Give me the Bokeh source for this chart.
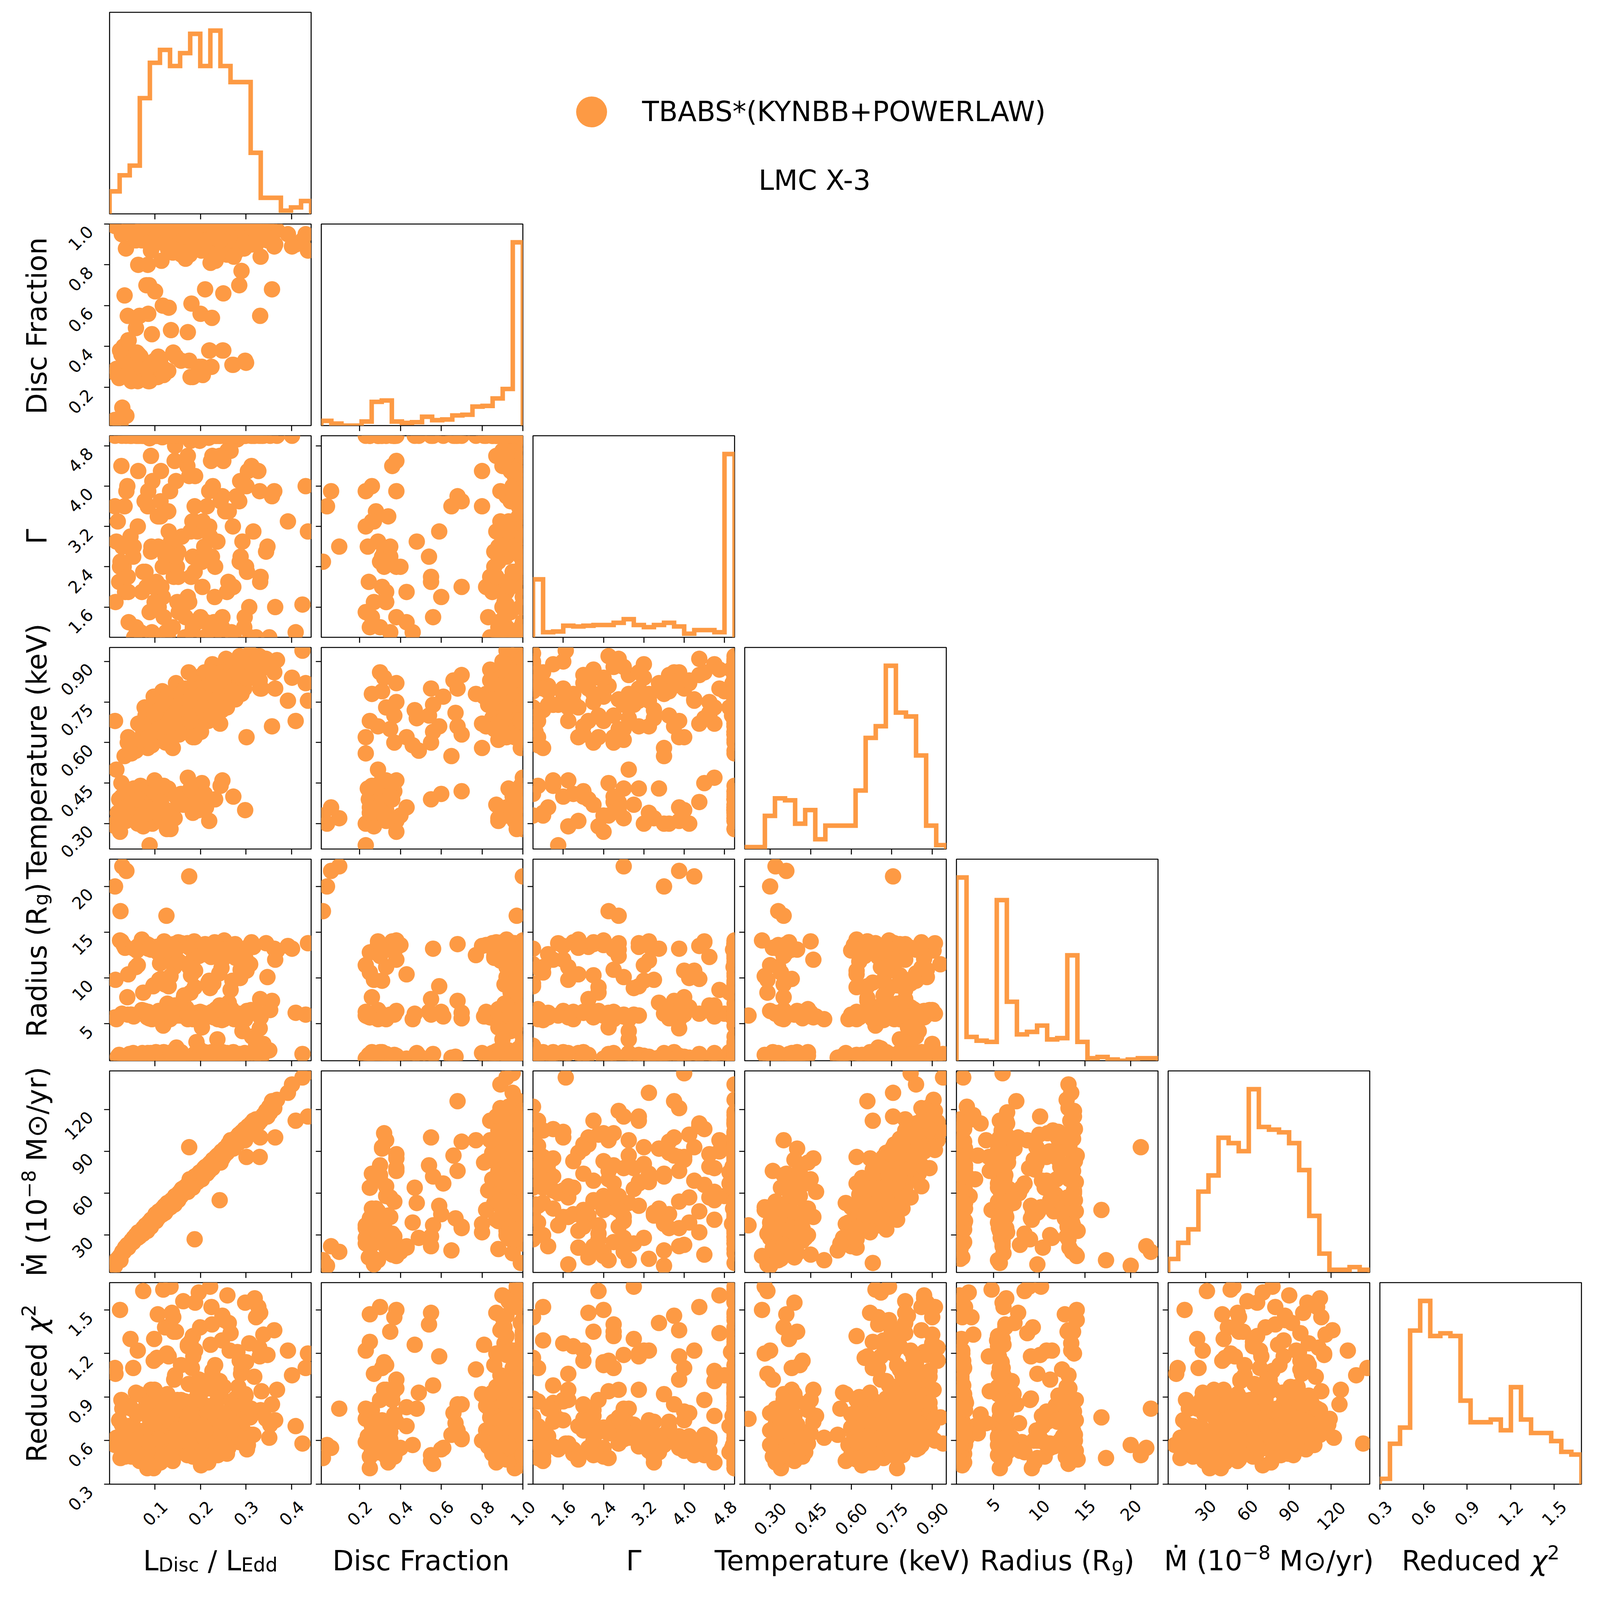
import math
import numpy as np
from bokeh.plotting import figure
from bokeh.models import (Range1d, FixedTicker, LinearAxis, Label, Legend,
                          LegendItem, ColumnDataSource, Spacer)
from bokeh.layouts import row, column
from bokeh.embed import file_html
from bokeh.resources import INLINE

# ---------------- scatter samples ----------------
# hot, disc-dominated states (batch 1)
ldisc_hot = [0.082, 0.088, 0.103, 0.109, 0.121, 0.128, 0.142, 0.151, 0.158, 0.172,
             0.178, 0.193, 0.199, 0.212, 0.218, 0.232, 0.241, 0.248, 0.263, 0.268,
             0.281, 0.292, 0.298, 0.312, 0.318, 0.332, 0.338, 0.071, 0.077, 0.084,
             0.097, 0.104, 0.116, 0.123, 0.137, 0.146, 0.153, 0.167, 0.174, 0.186,
             0.196, 0.204, 0.217, 0.226, 0.233, 0.247, 0.256, 0.262, 0.277, 0.286,
             0.294, 0.307, 0.313, 0.327, 0.334, 0.347, 0.353, 0.362, 0.118, 0.141,
             0.162, 0.181, 0.202, 0.221, 0.238, 0.259, 0.283, 0.302, 0.098, 0.112,
             0.131, 0.149, 0.169, 0.188, 0.209, 0.229, 0.252, 0.271, 0.289, 0.309,
             0.329, 0.092, 0.119, 0.139, 0.163, 0.183, 0.201, 0.223, 0.243, 0.258,
             0.191, 0.214, 0.171, 0.148, 0.133, 0.392, 0.431, 0.436, 0.424, 0.409,
             0.401, 0.357, 0.331, 0.368, 0.301, 0.351]
frac_hot = [0.97, 0.99, 0.93, 1.0, 0.98, 0.88, 0.96, 0.99, 0.85, 1.0,
            0.94, 0.97, 0.90, 1.0, 0.95, 0.86, 0.99, 0.92, 1.0, 0.88,
            0.97, 0.94, 1.0, 0.90, 0.98, 0.84, 1.0, 0.92, 1.0, 0.80,
            0.96, 1.0, 0.91, 0.99, 0.87, 1.0, 0.95, 0.83, 1.0, 0.93,
            0.98, 0.89, 1.0, 0.96, 0.82, 1.0, 0.94, 0.99, 0.86, 1.0,
            0.95, 0.91, 1.0, 0.97, 1.0, 0.92, 0.98, 0.89, 0.97, 1.0,
            0.93, 0.99, 0.87, 1.0, 0.95, 0.90, 1.0, 0.96, 1.0, 0.94,
            1.0, 0.91, 1.0, 0.96, 0.99, 0.88, 1.0, 0.93, 1.0, 0.97,
            1.0, 0.88, 1.0, 0.99, 1.0, 0.92, 1.0, 0.97, 1.0, 0.85,
            1.0, 0.98, 0.96, 1.0, 0.98, 0.95, 0.95, 0.87, 0.92, 0.90,
            0.89, 0.68, 0.55, 0.97, 0.99, 0.93]
gamma_hot = [5.0, 4.95, 2.1, 3.4, 5.0, 1.05, 4.98, 2.7, 5.0, 1.8,
             4.9, 3.1, 5.0, 1.3, 4.96, 2.4, 5.0, 3.8, 5.0, 1.1,
             4.93, 2.9, 5.0, 4.4, 5.0, 2.2, 5.0, 1.9, 5.0, 3.6,
             5.0, 1.0, 4.97, 2.6, 5.0, 4.1, 5.0, 1.4, 5.0, 3.3,
             5.0, 2.0, 5.0, 4.6, 5.0, 1.2, 5.0, 3.5, 5.0, 2.5,
             5.0, 1.6, 5.0, 4.3, 5.0, 2.8, 5.0, 3.9, 5.0, 2.2,
             5.0, 1.1, 5.0, 3.0, 5.0, 4.7, 5.0, 2.3, 5.0, 3.7,
             5.0, 1.7, 5.0, 4.2, 5.0, 1.3, 5.0, 3.2, 5.0, 1.0,
             5.0, 2.8, 5.0, 1.2, 5.0, 2.6, 5.0, 4.5, 5.0, 1.9,
             5.0, 3.6, 5.0, 2.4, 5.0, 3.3, 4.0, 3.1, 1.65, 1.1,
             5.0, 3.8, 2.1, 5.0, 4.0, 1.0]
temp_hot = [0.66, 0.70, 0.68, 0.72, 0.74, 0.64, 0.71, 0.76, 0.69, 0.78,
            0.73, 0.80, 0.75, 0.79, 0.82, 0.77, 0.84, 0.81, 0.86, 0.83,
            0.87, 0.85, 0.88, 0.86, 0.89, 0.87, 0.90, 0.62, 0.73, 0.58,
            0.77, 0.65, 0.79, 0.60, 0.67, 0.82, 0.63, 0.74, 0.86, 0.66,
            0.71, 0.85, 0.68, 0.89, 0.78, 0.72, 0.91, 0.80, 0.76, 0.92,
            0.82, 0.90, 0.84, 0.91, 0.80, 0.88, 0.90, 0.86, 0.69, 0.75,
            0.80, 0.70, 0.83, 0.74, 0.79, 0.87, 0.79, 0.84, 0.74, 0.70,
            0.77, 0.68, 0.72, 0.76, 0.86, 0.81, 0.74, 0.89, 0.81, 0.93,
            0.92, 0.61, 0.63, 0.58, 0.66, 0.62, 0.64, 0.70, 0.67, 0.73,
            0.82, 0.78, 0.76, 0.79, 0.71, 0.755, 0.82, 0.755, 0.94, 0.68,
            0.84, 0.66, 0.80, 0.905, 0.62, 0.89]
radius_hot = [1.3, 5.8, 13.4, 9.8, 1.7, 6.1, 11.2, 1.2, 13.8, 5.5,
              8.4, 1.6, 6.3, 12.6, 1.4, 5.9, 10.5, 1.9, 13.3, 6.6,
              1.1, 4.2, 6.0, 13.9, 1.5, 5.7, 2.8, 14.2, 6.4, 1.8,
              9.2, 1.2, 13.1, 5.6, 1.9, 6.8, 11.8, 1.3, 5.8, 14.0,
              2.3, 6.2, 9.5, 1.6, 13.6, 5.4, 1.2, 7.3, 12.2, 1.7,
              5.9, 13.5, 3.6, 6.1, 1.4, 10.1, 6.5, 13.2, 4.8, 13.7,
              1.1, 6.0, 2.0, 8.9, 5.5, 1.3, 13.0, 6.4, 1.5, 6.2,
              12.9, 1.8, 6.7, 10.8, 1.9, 5.7, 14.1, 1.5, 5.6, 11.5,
              1.2, 5.8, 13.3, 1.4, 7.8, 5.5, 1.6, 12.3, 6.3, 1.8,
              3.0, 6.1, 13.8, 5.9, 1.3, 13.5, 6.0, 13.8, 1.7, 6.2,
              13.2, 7.5, 7.7, 13.0, 10.8, 2.1]
mdot_hot = [37, 38, 44, 46, 51, 52, 55, 58, 61, 64,
            67, 68, 73, 76, 79, 83, 88, 87, 93, 94,
            97, 98, 103, 106, 109, 112, 116, 33, 34, 38,
            41, 44, 49, 50, 53, 57, 59, 62, 65, 68,
            71, 74, 77, 78, 83, 86, 91, 92, 95, 98,
            101, 104, 110, 110, 113, 115, 118, 121, 48, 54,
            60, 69, 72, 78, 84, 90, 96, 102, 43, 45,
            51, 57, 63, 69, 78, 81, 87, 93, 99, 105,
            111, 40, 47, 53, 60, 67, 71, 79, 85, 89,
            70, 74, 62, 58, 52, 132, 146, 115, 143, 112,
            138, 126, 100, 127, 86, 122]
chi2_hot = [0.62, 0.55, 0.71, 0.48, 0.83, 0.66, 1.02, 0.58, 0.74, 1.25,
            0.52, 0.95, 1.38, 0.63, 0.77, 1.12, 0.59, 1.46, 0.68, 0.87,
            1.21, 0.72, 1.55, 0.64, 1.04, 0.81, 1.33, 0.47, 0.79, 0.92,
            0.41, 1.17, 0.57, 0.69, 1.48, 0.61, 0.84, 0.56, 0.99, 0.53,
            1.62, 0.75, 0.45, 1.08, 0.67, 1.29, 0.60, 1.41, 0.89, 1.15,
            0.66, 1.27, 0.78, 1.52, 0.94, 1.19, 0.71, 1.36, 1.64, 1.35,
            1.56, 1.10, 0.86, 1.66, 0.50, 1.60, 0.97, 0.54, 1.30, 0.73,
            0.49, 0.88, 0.62, 1.22, 0.57, 0.82, 1.43, 0.65, 1.06, 0.76,
            1.24, 0.64, 0.90, 0.46, 0.72, 1.32, 0.43, 0.60, 0.93, 0.51,
            0.70, 0.58, 0.80, 0.69, 0.54, 1.22, 1.10, 1.20, 0.58, 0.70,
            1.05, 0.85, 1.48, 0.95, 0.80, 0.62]

# hot, disc-dominated states (batch 2)
ldisc_hot2 = [0.074, 0.079, 0.086, 0.091, 0.096, 0.101, 0.106, 0.111, 0.114, 0.119,
              0.124, 0.127, 0.133, 0.136, 0.139, 0.144, 0.147, 0.152, 0.156, 0.159,
              0.164, 0.166, 0.171, 0.176, 0.179, 0.184, 0.187, 0.192, 0.194, 0.198,
              0.203, 0.206, 0.211, 0.214, 0.219, 0.222, 0.227, 0.231, 0.234, 0.237,
              0.242, 0.246, 0.251, 0.254, 0.257, 0.261, 0.266, 0.269, 0.273, 0.276,
              0.279, 0.284, 0.288, 0.291, 0.296, 0.299, 0.304, 0.311, 0.316, 0.322,
              0.108, 0.117, 0.126, 0.143, 0.157, 0.168, 0.182, 0.197, 0.208, 0.216,
              0.228, 0.236, 0.244, 0.253, 0.264, 0.274, 0.287, 0.297, 0.319, 0.344]
frac_hot2 = [1.0, 0.95, 0.99, 0.87, 1.0, 0.93, 0.98, 1.0, 0.82, 0.96,
             1.0, 0.91, 0.99, 1.0, 0.86, 0.97, 1.0, 0.94, 0.89, 1.0,
             0.98, 0.92, 1.0, 0.85, 0.96, 1.0, 0.99, 0.90, 1.0, 0.95,
             0.88, 1.0, 0.97, 0.93, 1.0, 0.81, 0.99, 1.0, 0.94, 0.90,
             1.0, 0.96, 0.87, 1.0, 0.98, 0.92, 1.0, 0.95, 0.84, 1.0,
             0.99, 0.91, 1.0, 0.97, 0.88, 1.0, 0.94, 0.98, 1.0, 0.90,
             0.99, 1.0, 0.95, 0.92, 1.0, 0.97, 0.89, 1.0, 0.96, 0.93,
             1.0, 0.85, 0.99, 1.0, 0.94, 0.98, 1.0, 0.91, 0.97, 1.0]
gamma_hot2 = [5.0, 2.3, 5.0, 4.6, 1.0, 5.0, 3.4, 5.0, 2.0, 5.0,
              1.1, 5.0, 3.9, 5.0, 2.7, 4.8, 5.0, 1.5, 5.0, 3.0,
              5.0, 1.0, 4.4, 5.0, 2.2, 5.0, 3.6, 1.3, 5.0, 4.9,
              2.5, 5.0, 1.0, 5.0, 3.2, 5.0, 4.0, 1.8, 5.0, 2.9,
              5.0, 1.1, 5.0, 3.5, 5.0, 2.1, 4.7, 5.0, 1.0, 5.0,
              3.8, 5.0, 2.6, 5.0, 1.2, 5.0, 4.3, 5.0, 3.1, 1.0,
              5.0, 2.4, 5.0, 4.5, 1.6, 5.0, 3.3, 5.0, 2.8, 5.0,
              1.0, 5.0, 3.7, 5.0, 2.0, 5.0, 4.1, 1.4, 5.0, 2.7]
temp_hot2 = [0.64, 0.70, 0.61, 0.67, 0.73, 0.63, 0.69, 0.75, 0.66, 0.71,
             0.62, 0.77, 0.68, 0.73, 0.65, 0.79, 0.70, 0.74, 0.67, 0.76,
             0.72, 0.80, 0.69, 0.75, 0.78, 0.71, 0.82, 0.74, 0.77, 0.73,
             0.81, 0.76, 0.79, 0.72, 0.84, 0.77, 0.80, 0.75, 0.83, 0.78,
             0.81, 0.86, 0.76, 0.82, 0.79, 0.85, 0.80, 0.87, 0.83, 0.78,
             0.86, 0.82, 0.88, 0.84, 0.80, 0.87, 0.85, 0.89, 0.86, 0.90,
             0.72, 0.68, 0.74, 0.71, 0.78, 0.74, 0.77, 0.80, 0.74, 0.78,
             0.82, 0.76, 0.79, 0.84, 0.82, 0.85, 0.83, 0.89, 0.87, 0.91]
radius_hot2 = [1.4, 6.0, 13.6, 1.8, 9.1, 5.7, 1.2, 11.6, 6.3, 13.1,
               1.6, 7.2, 5.5, 1.3, 12.4, 6.1, 2.4, 13.8, 5.9, 1.5,
               8.1, 6.4, 1.1, 13.3, 10.3, 5.6, 1.7, 6.2, 12.8, 1.9,
               4.6, 13.5, 6.0, 1.2, 9.7, 5.8, 1.4, 13.9, 6.6, 3.3,
               1.6, 11.1, 5.5, 13.2, 1.3, 6.3, 8.7, 1.8, 5.7, 13.7,
               1.1, 6.1, 10.9, 1.5, 5.9, 12.1, 1.7, 6.5, 13.4, 2.6,
               5.6, 1.2, 13.0, 7.0, 1.9, 6.2, 11.9, 1.4, 5.8, 13.6,
               9.4, 1.3, 6.0, 13.1, 1.6, 5.5, 10.0, 1.8, 6.4, 13.8]
mdot_hot2 = [35, 37, 39, 41, 42, 45, 45, 47, 48, 50,
             51, 53, 54, 55, 53, 58, 58, 60, 61, 63,
             64, 64, 66, 70, 69, 70, 72, 73, 73, 75,
             76, 77, 79, 79, 81, 82, 84, 83, 86, 87,
             88, 90, 91, 92, 93, 95, 98, 97, 98, 99,
             100, 102, 103, 104, 105, 104, 108, 110, 112, 113,
             47, 48, 52, 57, 62, 65, 70, 74, 78, 80,
             84, 86, 89, 92, 95, 98, 102, 106, 112, 119]
chi2_hot2 = [0.52, 0.66, 0.78, 0.45, 0.89, 0.61, 0.73, 0.56, 0.84, 0.69,
             0.48, 0.92, 0.63, 0.75, 0.58, 1.05, 0.67, 0.54, 0.81, 0.71,
             0.59, 0.87, 0.50, 0.64, 0.77, 1.18, 0.62, 0.83, 0.57, 0.70,
             0.94, 0.53, 0.68, 0.80, 0.60, 1.26, 0.74, 0.51, 0.86, 0.65,
             0.72, 0.58, 0.97, 0.63, 0.79, 0.55, 1.34, 0.68, 0.76, 0.61,
             0.85, 0.59, 0.73, 1.12, 0.66, 0.91, 0.57, 0.82, 0.64, 1.45,
             0.70, 0.49, 0.78, 0.62, 0.88, 0.56, 0.74, 1.02, 0.67, 0.81,
             0.60, 0.93, 0.69, 0.55, 1.22, 0.72, 0.63, 0.86, 1.58, 0.75]

# cool states (kT ~ 0.3-0.5 keV), batch 1
ldisc_cool = [0.015, 0.021, 0.013, 0.031, 0.042, 0.048, 0.062, 0.068, 0.083, 0.091,
              0.102, 0.108, 0.122, 0.129, 0.143, 0.151, 0.157, 0.172, 0.183, 0.188,
              0.203, 0.212, 0.219, 0.244, 0.248, 0.298, 0.272, 0.036, 0.046, 0.054,
              0.066, 0.074, 0.087, 0.094, 0.106, 0.117, 0.126, 0.088, 0.134, 0.026,
              0.052, 0.071, 0.112, 0.012]
frac_cool = [0.29, 0.245, 0.27, 0.40, 0.43, 0.37, 0.23, 0.35, 0.25, 0.32,
             0.96, 0.99, 0.91, 0.28, 1.0, 0.87, 0.33, 1.0, 0.25, 0.97,
             0.30, 0.92, 0.38, 0.99, 0.38, 0.33, 0.31, 0.88, 1.0, 0.94,
             0.55, 1.0, 0.70, 0.98, 0.25, 0.60, 1.0, 0.23, 0.97, 0.36,
             0.31, 0.29, 0.34, 0.99]
gamma_cool = [2.9, 2.1, 1.7, 2.4, 1.3, 5.0, 3.2, 1.1, 5.0, 2.7,
              5.0, 1.6, 5.0, 3.5, 5.0, 2.2, 5.0, 4.6, 1.2, 5.0,
              2.5, 5.0, 3.9, 5.0, 1.4, 5.0, 2.0, 5.0, 3.0, 1.0,
              5.0, 2.3, 5.0, 4.1, 5.0, 1.8, 5.0, 1.5, 5.0, 4.4,
              2.6, 5.0, 3.4, 5.0]
temp_cool = [0.50, 0.39, 0.29, 0.33, 0.36, 0.42, 0.30, 0.44, 0.34, 0.38,
             0.31, 0.40, 0.35, 0.43, 0.32, 0.37, 0.41, 0.47, 0.34, 0.39,
             0.45, 0.36, 0.31, 0.44, 0.46, 0.35, 0.40, 0.31, 0.37, 0.33,
             0.39, 0.29, 0.42, 0.30, 0.36, 0.41, 0.28, 0.22, 0.28, 0.45,
             0.38, 0.35, 0.32, 0.68]
radius_cool = [5.5, 1.6, 9.8, 13.6, 1.2, 6.0, 11.4, 1.5, 5.7, 13.1,
               1.9, 6.4, 9.3, 1.3, 6.1, 13.9, 1.7, 5.8, 10.6, 1.2,
               6.2, 13.4, 1.5, 6.6, 12.0, 5.5, 1.9, 1.4, 6.0, 13.2,
               1.1, 8.4, 5.6, 1.3, 12.8, 6.3, 1.6, 5.9, 10.2, 14.0,
               1.8, 6.5, 1.2, 5.7]
mdot_cool = [12, 14, 9, 18, 22, 26, 28, 30, 33, 36,
             40, 43, 46, 49, 52, 55, 58, 61, 64, 67,
             70, 74, 76, 82, 85, 98, 92, 20, 24, 27,
             29, 31, 35, 39, 42, 45, 48, 37, 50, 16,
             25, 32, 44, 10]
chi2_cool = [0.62, 0.74, 1.06, 0.55, 0.83, 0.49, 1.22, 0.66, 0.41, 0.95,
             0.58, 0.87, 1.38, 0.52, 0.71, 0.60, 1.12, 0.77, 0.49, 1.55,
             0.65, 0.84, 1.02, 0.58, 0.73, 0.92, 0.67, 0.57, 1.30, 0.69,
             0.46, 1.63, 0.61, 0.79, 1.47, 0.54, 1.20, 0.75, 1.66, 0.88,
             1.10, 0.52, 0.45, 1.10]

# cool states, batch 2
ldisc_cool2 = [0.018, 0.027, 0.034, 0.044, 0.053, 0.058, 0.064, 0.077, 0.082, 0.097,
               0.104, 0.113, 0.119, 0.137, 0.146, 0.162, 0.178, 0.196, 0.209, 0.232,
               0.023, 0.039, 0.072, 0.099]
frac_cool2 = [0.27, 0.95, 0.33, 1.0, 0.24, 0.92, 0.36, 0.99, 0.29, 1.0,
              0.31, 0.97, 0.26, 0.88, 0.35, 1.0, 0.93, 0.30, 1.0, 0.96,
              0.38, 0.26, 0.98, 0.33]
gamma_cool2 = [3.3, 5.0, 1.9, 5.0, 2.8, 1.2, 5.0, 3.7, 5.0, 2.0,
               5.0, 4.3, 1.4, 5.0, 2.6, 5.0, 3.1, 5.0, 1.0, 5.0,
               2.4, 4.0, 5.0, 1.7]
temp_cool2 = [0.34, 0.40, 0.31, 0.37, 0.43, 0.33, 0.39, 0.30, 0.36, 0.42,
              0.34, 0.38, 0.44, 0.32, 0.40, 0.37, 0.43, 0.35, 0.41, 0.39,
              0.27, 0.35, 0.33, 0.46]
radius_cool2 = [1.4, 6.1, 13.3, 1.7, 5.8, 11.2, 1.2, 6.4, 13.7, 1.5,
                5.6, 9.9, 1.9, 6.2, 13.1, 1.3, 5.9, 12.4, 1.6, 6.0,
                14.1, 7.9, 1.8, 5.7]
mdot_cool2 = [13, 17, 21, 24, 28, 30, 31, 35, 37, 42,
              44, 47, 49, 54, 57, 62, 67, 73, 77, 84,
              15, 23, 34, 43]
chi2_cool2 = [0.58, 0.71, 0.49, 0.84, 0.63, 0.55, 0.92, 0.67, 0.52, 1.15,
              0.74, 0.60, 0.81, 0.47, 1.35, 0.69, 0.56, 0.88, 0.62, 0.77,
              1.50, 0.53, 0.66, 0.95]

# intermediate disc fraction
ldisc_mid = [0.063, 0.081, 0.10, 0.13, 0.18, 0.20, 0.21, 0.225, 0.25, 0.285,
             0.29, 0.04, 0.058, 0.041, 0.085, 0.135, 0.172, 0.093, 0.033]
frac_mid = [0.80, 0.70, 0.67, 0.59, 0.61, 0.56, 0.68, 0.54, 0.66, 0.70,
            0.77, 0.55, 0.49, 0.43, 0.56, 0.48, 0.47, 0.46, 0.65]
gamma_mid = [4.3, 2.0, 5.0, 3.1, 5.0, 1.4, 5.0, 2.6, 5.0, 3.7,
             5.0, 2.2, 5.0, 1.9, 5.0, 2.9, 5.0, 1.1, 3.6]
temp_mid = [0.67, 0.63, 0.71, 0.66, 0.77, 0.74, 0.80, 0.70, 0.83, 0.85,
            0.78, 0.60, 0.57, 0.62, 0.64, 0.69, 0.72, 0.59, 0.55]
radius_mid = [13.5, 6.2, 1.4, 9.1, 5.8, 1.7, 13.7, 6.3, 1.2, 5.6,
              12.5, 6.0, 1.5, 10.4, 13.2, 1.8, 6.1, 5.5, 1.3]
mdot_mid = [32, 36, 42, 51, 67, 72, 76, 80, 87, 97,
            98, 22, 28, 21, 37, 53, 64, 39, 19]
chi2_mid = [0.60, 0.85, 0.72, 1.18, 0.55, 0.98, 0.67, 1.40, 0.79, 0.62,
            1.09, 0.50, 0.93, 0.70, 0.44, 0.82, 1.26, 0.57, 0.64]

# low disc fraction
ldisc_low = [0.06, 0.107, 0.14, 0.175, 0.178, 0.205, 0.22, 0.25, 0.224, 0.27,
             0.30, 0.048, 0.085, 0.12]
frac_low = [0.37, 0.35, 0.37, 0.33, 0.25, 0.26, 0.38, 0.38, 0.30, 0.31,
            0.32, 0.23, 0.23, 0.29]
gamma_low = [5.0, 2.8, 5.0, 1.7, 5.0, 3.3, 5.0, 4.5, 1.2, 5.0,
             2.4, 5.0, 3.9, 5.0]
temp_low = [0.60, 0.65, 0.70, 0.73, 0.68, 0.78, 0.82, 0.75, 0.86, 0.79,
            0.84, 0.56, 0.62, 0.66]
radius_low = [13.0, 6.0, 1.6, 11.2, 5.7, 1.3, 13.3, 6.4, 1.9, 9.7,
              5.9, 1.2, 6.3, 14.0]
mdot_low = [29, 43, 54, 65, 64, 74, 78, 88, 80, 93,
            103, 24, 35, 47]
chi2_low = [0.78, 0.61, 1.45, 0.58, 1.28, 0.70, 0.96, 0.53, 1.52, 0.67,
            1.14, 0.82, 0.59, 0.74]

# isolated points
ldisc_out = [0.028, 0.037, 0.012, 0.175, 0.024, 0.125, 0.187, 0.242, 0.364, 0.33]
frac_out = [0.10, 0.06, 0.04, 1.0, 0.02, 0.97, 0.96, 0.92, 0.90, 0.95]
gamma_out = [2.8, 3.9, 3.6, 4.2, 2.5, 2.7, 2.3, 4.6, 1.6, 3.9]
temp_out = [0.32, 0.36, 0.30, 0.755, 0.33, 0.35, 0.62, 0.73, 0.80, 0.83]
radius_out = [22.2, 21.7, 20.0, 21.1, 17.3, 16.8, 9.0, 7.0, 12.0, 4.5]
mdot_out = [18, 22, 8, 93, 12, 48, 27, 55, 100, 86]
chi2_out = [0.82, 0.55, 0.57, 0.50, 0.48, 0.76, 0.88, 1.01, 0.74, 1.18]

# ---------------- 1-D histogram counts (20 bins each) ----------------
hist_ldisc = [7, 12, 15, 36, 47, 51, 46, 50, 56, 46, 57, 46, 41, 41, 19, 5, 5, 1, 2, 4]
hist_frac = [7, 3, 0, 0, 6, 35, 37, 6, 4, 5, 13, 8, 9, 15, 16, 28, 29, 40, 54, 270]
hist_gamma = [80, 7, 8, 16, 15, 16, 17, 17, 20, 25, 17, 14, 17, 20, 15, 5, 10, 10, 7, 253]
hist_temp = [1, 1, 17, 26, 25, 13, 20, 5, 12, 12, 12, 30, 57, 63, 94, 70, 68, 48, 12, 2]
hist_radius = [146, 19, 16, 15, 128, 47, 21, 23, 28, 17, 18, 84, 15, 2, 3, 1, 0, 1, 2, 2]
hist_mdot = [5, 11, 16, 30, 36, 50, 48, 45, 68, 54, 53, 52, 48, 38, 21, 7, 1, 1, 2, 1]
hist_chi2 = [2, 15, 21, 57, 68, 55, 56, 55, 31, 23, 23, 24, 20, 36, 24, 19, 19, 16, 12, 11]

# ---------------- axis extents and ticks ----------------
limits = [(0.0, 0.443), (0.012, 1.0), (1.0, 5.0), (0.206, 0.952),
          (0.96, 22.98), (3.2, 147.7), (0.3, 1.688)]
tick_values = [[0.1, 0.2, 0.3, 0.4],
               [0.2, 0.4, 0.6, 0.8, 1.0],
               [1.6, 2.4, 3.2, 4.0, 4.8],
               [0.30, 0.45, 0.60, 0.75, 0.90],
               [5, 10, 15, 20],
               [30, 60, 90, 120],
               [0.3, 0.6, 0.9, 1.2, 1.5]]
tick_labels = [["0.1", "0.2", "0.3", "0.4"],
               ["0.2", "0.4", "0.6", "0.8", "1.0"],
               ["1.6", "2.4", "3.2", "4.0", "4.8"],
               ["0.30", "0.45", "0.60", "0.75", "0.90"],
               ["5", "10", "15", "20"],
               ["30", "60", "90", "120"],
               ["0.3", "0.6", "0.9", "1.2", "1.5"]]
SUB, SUP = "sub", "sup"
NB = "\u00a0"   # non-collapsing space inside split titles
axis_titles = [[("L", None), ("Disc", SUB), (NB + "/" + NB + "L", None), ("Edd", SUB)],
               [("Disc Fraction", None)],
               [("Γ", None)],
               [("Temperature (keV)", None)],
               [("Radius (R", None), ("g", SUB), (")", None)],
               [("Ṁ" + NB + "(10", None), ("−8", SUP), (NB + "M⊙/yr)", None)],
               [("Reduced" + NB, None), ("χ", "ital"), ("2", SUP)]]
legend_label = "TBABS*(KYNBB+POWERLAW)"
source_label = "LMC X-3"

# ---------------- styling / geometry (CSS px) ----------------
ORANGE = "#fd9a44"
FONT = "DejaVu Sans"
FR = 516             # panel frame size
STEP = 542           # panel pitch
BL, BR, BT, BB = 17, 9, 9, 17   # borders round each frame (ticks live in BL/BB)
LEFT_W = 263         # left strip for y tick labels / titles
BOT_H = 250          # bottom strip for x tick labels / titles
ROW0_TOP = 31
PX0 = 8 + LEFT_W + BL   # page x of first frame
PY0 = 8 + ROW0_TOP      # page y of first frame
TICK_PX = 43
LAB_PX = 70.5
SMALL_PX = 49
MARK = 42
HIST_LW = 11.6
EDGE_LW = 2.6

keys = ["ldisc", "frac", "gamma", "temp", "radius", "mdot", "chi2"]
batches = ["hot", "hot2", "cool", "cool2", "mid", "low", "out"]
g = globals()
src = ColumnDataSource({k: sum((g[f"{k}_{b}"] for b in batches), []) for k in keys})
hists = [hist_ldisc, hist_frac, hist_gamma, hist_temp, hist_radius, hist_mdot, hist_chi2]

EM = {' ': 0.318, NB: 0.318, '(': 0.390, ')': 0.390, '/': 0.337, '.': 0.318, '−': 0.838,
      '⊙': 0.838, 'Ṁ': 0.863, 'M': 0.863, 'L': 0.557, 'D': 0.770, 'E': 0.632,
      'R': 0.695, 'a': 0.613, 'c': 0.550, 'd': 0.635, 'e': 0.615, 'g': 0.635,
      'i': 0.278, 'r': 0.411, 's': 0.521, 'u': 0.634, 'y': 0.592, 'χ': 0.592,
      'F': 0.575, 'n': 0.634, 'o': 0.612, 't': 0.392, 'T': 0.611, 'm': 0.974,
      'p': 0.635, 'k': 0.579, 'V': 0.684, 'Γ': 0.557}


def text_w(s, px):
    return sum(EM.get(c, 0.636) for c in s) * px


def make_axis(ticks):
    ax = LinearAxis(ticker=FixedTicker(ticks=ticks, minor_ticks=[]))
    ax.major_tick_in = 0
    ax.major_tick_out = 14
    ax.major_tick_line_width = EDGE_LW
    ax.major_tick_line_color = "black"
    ax.minor_tick_line_color = None
    ax.axis_line_color = None
    ax.major_label_text_font_size = "0px"
    ax.major_label_text_color = None
    ax.major_label_standoff = 0
    ax.axis_label = None
    return ax


def strip(w, h):
    s = figure(width=w, height=h, x_range=Range1d(0, w), y_range=Range1d(h, 0),
               toolbar_location=None, output_backend="svg",
               x_axis_location=None, y_axis_location=None, min_border=0, title=None)
    s.grid.visible = False
    s.outline_line_color = None
    return s


panel_rows = []
for i in range(7):
    figs = []
    for j in range(i + 1):
        br = 20 if j == 6 else BR
        bt = ROW0_TOP if i == 0 else BT
        if i == j:
            yr = Range1d(0, 1.1 * max(hists[i]))
        else:
            yr = Range1d(*limits[i])
        p = figure(width=BL + FR + br, height=bt + FR + BB,
                   x_range=Range1d(*limits[j]), y_range=yr,
                   toolbar_location=None, output_backend="svg",
                   x_axis_location=None, y_axis_location=None,
                   min_border_left=BL, min_border_right=br,
                   min_border_top=bt, min_border_bottom=BB, title=None)
        p.grid.visible = False
        p.outline_line_color = "black"
        p.outline_line_width = EDGE_LW
        p.add_layout(make_axis(tick_values[j]), "below")
        if i == j:
            edges = np.linspace(limits[i][0], limits[i][1], len(hists[i]) + 1)
            xs = np.repeat(edges, 2)
            ys = np.concatenate([[0], np.repeat(hists[i], 2), [0]])
            p.line(xs, ys, line_width=HIST_LW, line_color=ORANGE, line_join="miter")
        else:
            p.add_layout(make_axis(tick_values[i]), "left")
            p.scatter(keys[j], keys[i], source=src, size=MARK,
                      fill_color=ORANGE, line_color=None)
        figs.append(p)
    panel_rows.append(figs)

# legend block (upper right of the corner plot)
ROW0_H = ROW0_TOP + FR + BB
LEG_X0 = 8 + LEFT_W + 2 * STEP
leg_fig = strip(3 * STEP, ROW0_H)
dummy = leg_fig.scatter(x=[np.nan], y=[np.nan], size=MARK, fill_color=ORANGE, line_color=None)
GLYPH = 198
leg = Legend(items=[LegendItem(label=legend_label, renderers=[dummy])],
             location=(1521.7 - LEG_X0 - GLYPH / 2, ROW0_H - (287.5 - 8) - GLYPH / 2 - 23),
             glyph_width=GLYPH, glyph_height=GLYPH,
             label_standoff=31, padding=0, margin=0, spacing=0,
             border_line_color=None, background_fill_alpha=0,
             label_text_font=FONT, label_text_font_size=f"{LAB_PX}px",
             label_text_color="black")
leg_fig.add_layout(leg)
leg_fig.add_layout(Label(x=2093 - LEG_X0, y=460.5 - 8 + 18, text=source_label,
                         text_align="center", text_baseline="middle", text_font=FONT,
                         text_font_size=f"{LAB_PX}px", text_color="black"))

RIGHT_W = STEP * 6 + BL + FR + 20
H_TOT = ROW0_H + STEP * 6 + BOT_H
left = strip(LEFT_W, H_TOT)
bot = strip(RIGHT_W, BOT_H)
LX0, LY0 = 8, 8                                 # page origin of left strip
BX0, BY0 = 8 + LEFT_W, 8 + ROW0_H + STEP * 6    # page origin of bottom strip


def page_x(j, v):
    lo, hi = limits[j]
    return PX0 + STEP * j + (v - lo) / (hi - lo) * FR


def page_y(i, v):
    lo, hi = limits[i]
    return PY0 + STEP * i + (hi - v) / (hi - lo) * FR


frame_bottom = PY0 + STEP * 6 + FR
for j in range(7):
    for v, s in zip(tick_values[j], tick_labels[j]):
        L = text_w(s, TICK_PX)
        bot.add_layout(Label(x=page_x(j, v) - BX0, y=frame_bottom + 38.7 + 0.52 * L - BY0,
                             text=s, angle=math.pi / 4, text_align="center",
                             text_baseline="middle", text_font=FONT,
                             text_font_size=f"{TICK_PX}px", text_color="black"))
for i in range(1, 7):
    for v, s in zip(tick_values[i], tick_labels[i]):
        left.add_layout(Label(x=PX0 - 50 - LX0, y=page_y(i, v) + 12 - LY0, text=s,
                              angle=math.pi / 4, text_align="right",
                              text_baseline="middle", text_font=FONT,
                              text_font_size=f"{TICK_PX}px", text_color="black"))


def rich_label(target, pieces, cx, cy, vertical):
    sizes = [SMALL_PX if kind in (SUB, SUP) else LAB_PX for _, kind in pieces]
    total = sum(text_w(t, s) for (t, _), s in zip(pieces, sizes))
    pos = -total / 2
    for (t, kind), s in zip(pieces, sizes):
        shift = 11 if kind == SUB else (-21.5 if kind == SUP else 0)
        if vertical:
            x, y, ang = cx + shift, cy - pos, math.pi / 2
        else:
            x, y, ang = cx + pos, cy + shift, 0
        target.add_layout(Label(x=x, y=y, text=t, angle=ang, text_align="left",
                                text_baseline="alphabetic", text_font=FONT,
                                text_font_style="italic" if kind == "ital" else "normal",
                                text_font_size=f"{s}px", text_color="black"))
        pos += text_w(t, s)


for j in range(7):
    rich_label(bot, axis_titles[j], PX0 + STEP * j + FR / 2 - BX0,
               frame_bottom + 196 - BY0, False)
for i in range(1, 7):
    rich_label(left, axis_titles[i], 102 - LX0, PY0 + STEP * i + FR / 2 - LY0, True)

rows = [row(panel_rows[0][0], Spacer(width=STEP, height=ROW0_H), leg_fig)]
for i in range(1, 7):
    rows.append(row(*panel_rows[i]))
right_block = column(*rows, bot)
layout = row(left, right_block)

open("out.html", "w").write(file_html(layout, INLINE))
